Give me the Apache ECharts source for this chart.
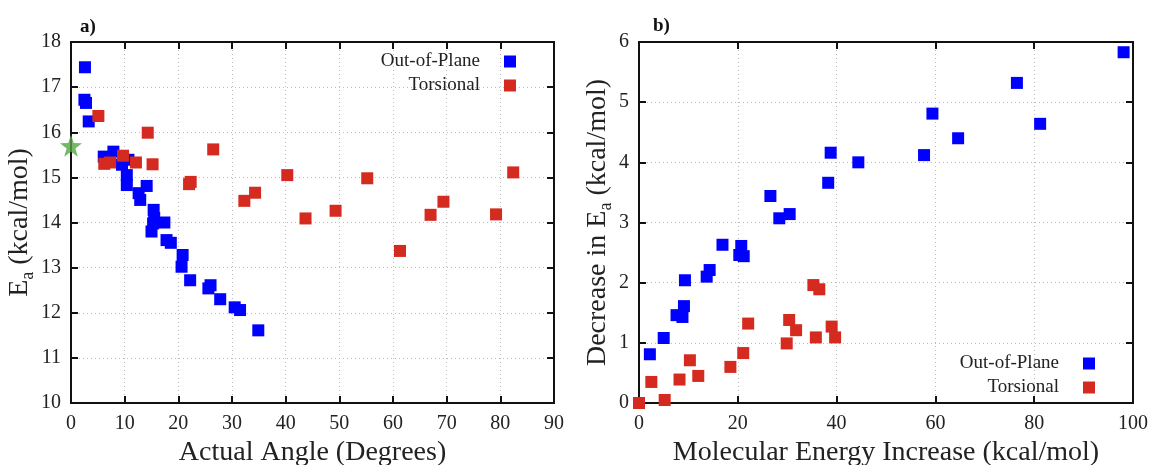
<!DOCTYPE html>
<html>
<head>
<meta charset="utf-8">
<script src="https://cdn.jsdelivr.net/npm/echarts@6/dist/echarts.min.js"></script>
<style>
  html, body { margin: 0; padding: 0; background: #fff; }
  #chart { width: 1151px; height: 465px; }
</style>
</head>
<body>
<div id="chart"></div>
<script>
// panel a) actual angle (deg) vs Ea (kcal/mol)
const outOfPlaneA = [
  [2.6, 17.44], [2.5, 16.72], [2.8, 16.65], [3.3, 16.24],
  [6.1, 15.46], [7.9, 15.57], [9.5, 15.28], [10.7, 15.39], [10.4, 15.05], [10.4, 14.83],
  [12.6, 14.65], [12.9, 14.5], [14.1, 14.81], [15.4, 14.28], [15.5, 14.1], [17.4, 14.0],
  [15.0, 13.8], [15.3, 13.98], [17.8, 13.61], [18.6, 13.55], [20.8, 13.28], [20.6, 13.02],
  [22.2, 12.72], [26.0, 12.61], [25.6, 12.54], [27.8, 12.3], [30.5, 12.12], [31.5, 12.06],
  [34.9, 11.61]
]
const torsionalA = [
  [5.1, 16.36], [14.3, 15.99], [26.5, 15.62], [6.2, 15.3], [7.3, 15.33], [9.7, 15.48],
  [12.1, 15.33], [15.2, 15.29], [22.0, 14.85], [22.3, 14.9], [40.3, 15.05], [32.3, 14.48],
  [34.3, 14.66], [43.7, 14.09], [49.3, 14.26], [55.2, 14.98], [61.3, 13.37], [67.0, 14.17],
  [69.4, 14.46], [79.2, 14.18], [82.4, 15.11]
]
const referenceA = [[0, 15.7]]

// panel b) molecular energy increase vs decrease in Ea
const outOfPlaneB = [
  [2.2, 0.81], [5.0, 1.08], [7.6, 1.46], [8.8, 1.43], [9.1, 1.61], [9.3, 2.04],
  [13.7, 2.1], [14.3, 2.21], [16.9, 2.63], [20.7, 2.61], [20.3, 2.46], [21.2, 2.44],
  [26.6, 3.44], [28.4, 3.07], [30.5, 3.14], [38.3, 3.66], [38.8, 4.16], [44.4, 4.0],
  [57.7, 4.12], [59.4, 4.81], [64.6, 4.4], [76.5, 5.32], [81.2, 4.64], [98.1, 5.83]
]
const torsionalB = [
  [0, 0], [2.5, 0.35], [5.2, 0.05], [8.2, 0.39], [10.3, 0.71], [12.0, 0.45],
  [18.5, 0.6], [21.1, 0.83], [22.1, 1.32], [29.9, 0.99], [30.4, 1.38], [31.8, 1.21],
  [35.3, 1.96], [36.5, 1.89], [35.8, 1.09], [39.0, 1.27], [39.7, 1.09]
]

const seriesNames = ['Out-of-Plane', 'Torsional']
const blue = '#0000ff'
const red = '#d42a1f'
const font = 'Liberation Serif'
const star = 'path://M0,-10L2.35,-3.24L9.51,-3.09L3.8,1.24L5.88,8.09L0,4L-5.88,8.09L-3.8,1.24L-9.51,-3.09L-2.35,-3.24Z'

const chart = echarts.init(document.getElementById('chart'))

function mainX(gridIndex, max, interval, title) {
  return {
    type: 'value', gridIndex, min: 0, max, interval,
    name: title, nameLocation: 'middle', nameGap: 32,
    nameTextStyle: { fontFamily: font, fontSize: 28, color: '#222' },
    axisLine: { show: true, onZero: false, lineStyle: { color: '#111', width: 2 } },
    axisTick: { show: true, inside: true, length: 7, lineStyle: { color: '#111', width: 2 } },
    axisLabel: { fontFamily: font, fontSize: 20, color: '#222', margin: 11 },
    splitLine: { show: true, lineStyle: { type: [1, 3], color: '#bbb', width: 1 } }
  }
}
function mainY(gridIndex, min, max, interval, title, gap) {
  return {
    type: 'value', gridIndex, min, max, interval,
    name: title, nameLocation: 'middle', nameGap: gap, nameRotate: 90,
    nameTextStyle: {
      fontFamily: font, fontSize: 28, color: '#222',
      rich: {
        e: { fontFamily: font, fontSize: 28, color: '#222', lineHeight: 34, verticalAlign: 'middle' },
        s: { fontFamily: font, fontSize: 18, color: '#222', lineHeight: 34, verticalAlign: 'bottom' }
      }
    },
    axisLine: { show: true, onZero: false, lineStyle: { color: '#111', width: 2 } },
    axisTick: { show: true, inside: true, length: 7, lineStyle: { color: '#111', width: 2 } },
    axisLabel: { fontFamily: font, fontSize: 20, color: '#222', margin: 10 },
    splitLine: { show: true, lineStyle: { type: [1, 3], color: '#bbb', width: 1 } }
  }
}
function mirror(base, position) {
  return Object.assign({}, base, {
    position, name: '',
    axisLabel: { show: false },
    splitLine: { show: false }
  })
}

const xa = mainX(0, 90, 10, 'Actual Angle (Degrees)')
const xb = mainX(1, 100, 20, 'Molecular Energy Increase (kcal/mol)')
const ya = mainY(0, 10, 18, 1, '{e|E}{s|a}{e| (kcal/mol)}', 28)
const yb = mainY(1, 0, 6, 1, '{e|Decrease in E}{s|a}{e| (kcal/mol)}', 16)

function legend(right, top) {
  return {
    data: seriesNames, orient: 'vertical', right, top, align: 'right',
    itemWidth: 12, itemHeight: 12, itemGap: 5,
    textStyle: { fontFamily: font, fontSize: 19, color: '#222', padding: [0, 19, 0, 0] },
    selectedMode: false
  }
}

function scatter(name, data, color, ax) {
  return {
    name, type: 'scatter', data, xAxisIndex: ax, yAxisIndex: ax,
    symbol: 'rect', symbolSize: 12, clip: false,
    itemStyle: { color, opacity: 1 }
  }
}

chart.setOption({
  animation: false,
  backgroundColor: '#fff',
  title: [
    { text: 'a)', left: 75, top: 13, textStyle: { fontFamily: font, fontSize: 19, fontWeight: 'bold', color: '#111' } },
    { text: 'b)', left: 648, top: 12, textStyle: { fontFamily: font, fontSize: 19, fontWeight: 'bold', color: '#111' } }
  ],
  grid: [
    { left: 71, right: 597, top: 42, bottom: 62, show: true, borderColor: '#111', borderWidth: 2, outerBoundsMode: 'none' },
    { left: 639, right: 18, top: 42, bottom: 62, show: true, borderColor: '#111', borderWidth: 2, outerBoundsMode: 'none' }
  ],
  legend: [legend(630, 47), legend(51, 349)],
  xAxis: [xa, xb, mirror(xa, 'top'), mirror(xb, 'top')],
  yAxis: [ya, yb, mirror(ya, 'right'), mirror(yb, 'right')],
  series: [
    scatter('Out-of-Plane', outOfPlaneA, blue, 0),
    scatter('Torsional', torsionalA, red, 0),
    {
      name: 'reference', type: 'scatter', data: referenceA, xAxisIndex: 0, yAxisIndex: 0,
      symbol: star, symbolSize: 22, clip: false, itemStyle: { color: '#55a545' }
    },
    scatter('Out-of-Plane', outOfPlaneB, blue, 1),
    scatter('Torsional', torsionalB, red, 1)
  ]
})
</script>
</body>
</html>
